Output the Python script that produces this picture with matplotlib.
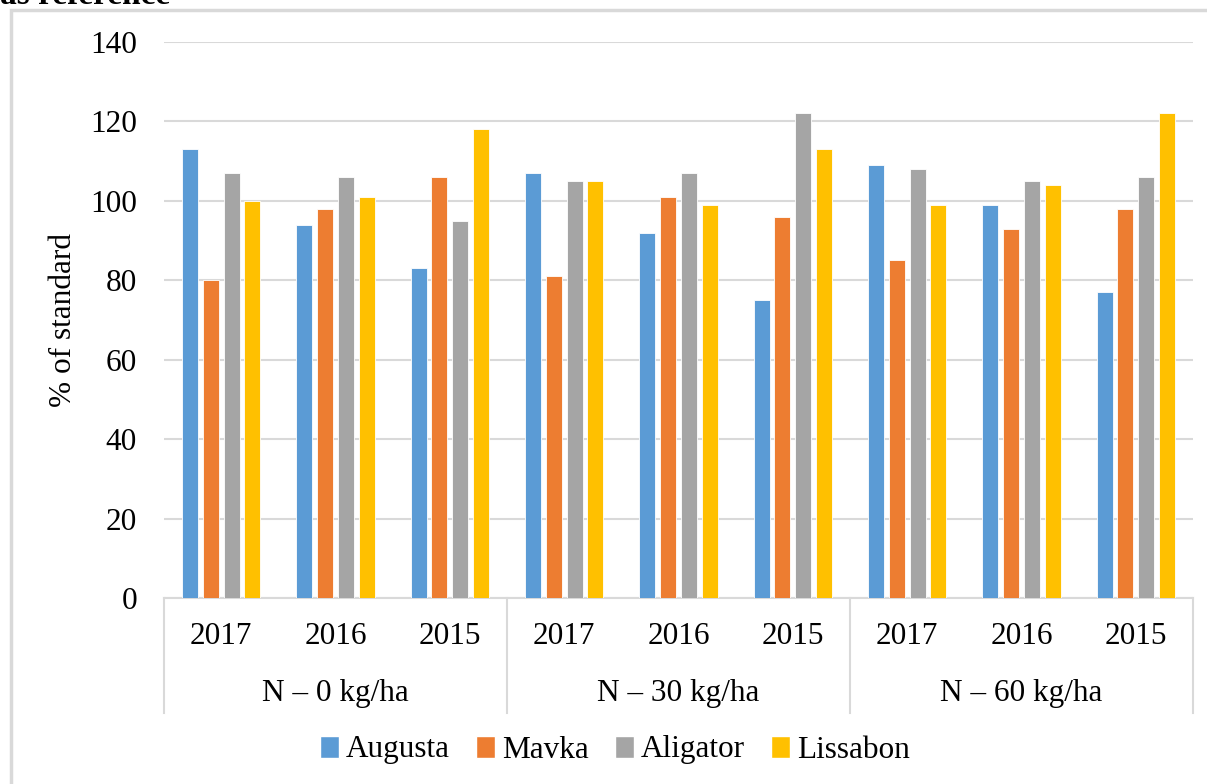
import matplotlib
matplotlib.use("Agg")
import matplotlib.pyplot as plt
from matplotlib.patches import Rectangle, Patch
import numpy as np

years = ["2017", "2016", "2015"]
groups = ["N \u2013 0 kg/ha", "N \u2013 30 kg/ha", "N \u2013 60 kg/ha"]
series = ["Augusta", "Mavka", "Aligator", "Lissabon"]
colors = ["#5B9BD5", "#ED7D31", "#A5A5A5", "#FFC000"]

augusta = [113, 94, 83, 107, 92, 75, 109, 99, 77]
mavka = [80, 98, 106, 81, 101, 96, 85, 93, 98]
aligator = [107, 106, 95, 105, 107, 122, 108, 105, 106]
lissabon = [100, 101, 118, 105, 99, 113, 99, 104, 122]
values = [augusta, mavka, aligator, lissabon]

yticks = [0, 20, 40, 60, 80, 100, 120, 140]

W, H = 1207, 784
fig = plt.figure(figsize=(W / 100, H / 100), dpi=100)
plt.rcParams['font.family'] = ['Liberation Serif', 'DejaVu Serif']
FS = 22.5

# outer frame (only top and left visible)
fig.patches.append(Rectangle((11 / W, -0.1), 1.2, 1 - 10 / H + 0.1, transform=fig.transFigure,
                             fill=False, edgecolor="#d9d9d9", linewidth=2.5, zorder=0))
fig.text(0.0, 1 - 4 / H, "as reference", fontsize=24, fontweight="bold", va="baseline",
         ha="left", color="black")

ax = fig.add_axes([164 / W, 1 - 598 / H, (1193 - 164) / W, (598 - 42) / H])
n = len(augusta)
x = np.arange(n) + 0.5
step = 0.181
width = 0.14
for k, (name, vals, c) in enumerate(zip(series, values, colors)):
    ax.bar(x + (k - 1.5) * step, vals, width=width, color=c, edgecolor="white",
           linewidth=0.6, label=name, zorder=3)

ax.set_xlim(0, n)
ax.set_ylim(0, 140)
ax.set_yticks(yticks)
ax.set_yticklabels([str(t) for t in yticks], fontsize=FS)
ax.yaxis.grid(True, color="#d9d9d9", linewidth=1.5, zorder=0)
ax.set_axisbelow(True)
for s in ["top", "right", "left"]:
    ax.spines[s].set_visible(False)
ax.spines["bottom"].set_color("#d9d9d9")
ax.spines["bottom"].set_linewidth(1.5)
ax.tick_params(axis="y", length=0, pad=19.5)
ax.set_xticks([])
ax.set_ylabel("% of standard", fontsize=FS)
ax.yaxis.set_label_coords((78 - 164) / 1029, 0.5)

# category labels
ph = 556.0
for i in range(n):
    ax.text(x[i], (598 - 636) / ph, years[i % 3], transform=ax.get_xaxis_transform(),
            ha="center", va="center", fontsize=FS)
for g in range(3):
    ax.text(3 * g + 1.5, (598 - 693) / ph, groups[g], transform=ax.get_xaxis_transform(),
            ha="center", va="center", fontsize=FS)
for b in [0, 3, 6, 9]:
    ax.plot([b, b], [0, (598 - 713) / ph], transform=ax.get_xaxis_transform(),
            color="#d9d9d9", linewidth=1.5, clip_on=False)

handles = [Patch(facecolor=c, edgecolor="white") for c in colors]
fig.legend(handles, series, loc="center", bbox_to_anchor=(615 / W, 1 - 750 / H),
           ncol=4, frameon=False, fontsize=FS, handlelength=0.6, handleheight=0.7,
           handletextpad=0.22, columnspacing=0.85)

fig.savefig("out.png", dpi=100, facecolor="white")
